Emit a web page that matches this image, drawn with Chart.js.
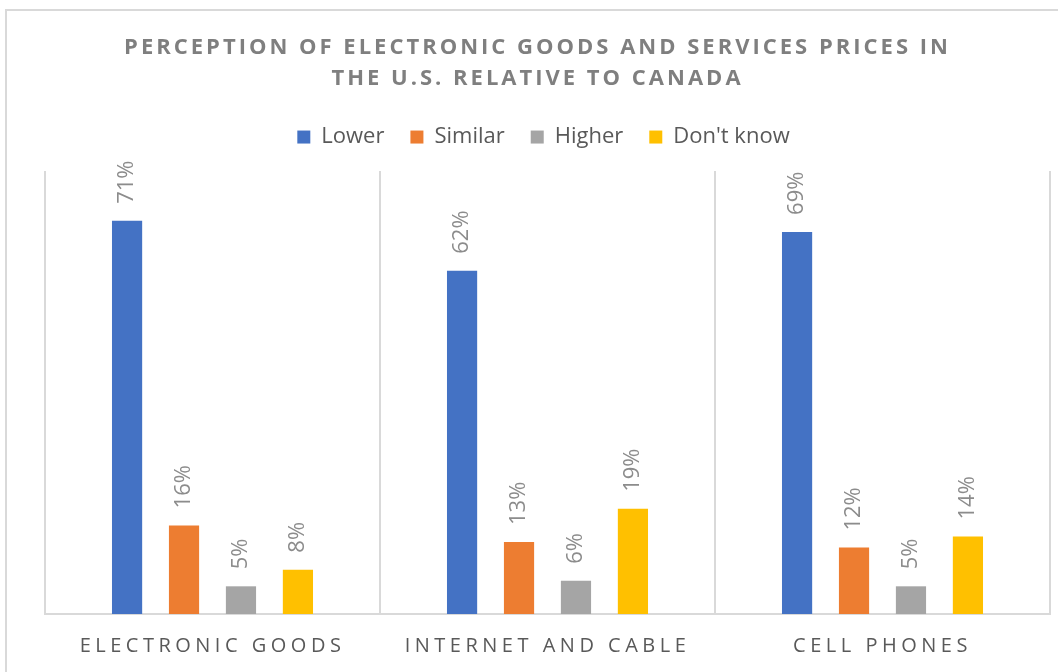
<!DOCTYPE html>
<html>
<head>
<meta charset="utf-8">
<script src="https://cdn.jsdelivr.net/npm/chart.js@4.4.1/dist/chart.umd.min.js"></script>
<style>
    html, body { margin: 0; padding: 0; background: #fff; }
    #wrap { width: 1058px; height: 672px; position: relative; }
</style>
</head>
<body>
<div id="wrap"><canvas id="my-chart"></canvas></div>
<script>
const categories = ['ELECTRONIC GOODS', 'INTERNET AND CABLE', 'CELL PHONES'];
const seriesNames = ['Lower', 'Similar', 'Higher', "Don't know"];
const lower = [71, 62, 69];
const similar = [16, 13, 12];
const higher = [5, 6, 5];
const dontKnow = [8, 19, 14];
const colors = ['#4472c4', '#ed7d31', '#a5a5a5', '#ffc000'];

// letter spacing (and a small horizontal nudge) for title, legend, axis labels
function spaceOut(obj, method, px, dx) {
    if (!obj || obj['_spaced_' + method]) return;
    const orig = obj[method];
    obj[method] = function (...args) {
        const c = this.ctx;
        c.save();
        c.letterSpacing = px;
        c.translate(dx, 0);
        orig.apply(this, args);
        c.restore();
    };
    obj['_spaced_' + method] = true;
}

const spacing = {
    id: 'spacing',
    beforeInit(chart) {
        // extra room under the legend
        const fit = chart.legend.fit;
        chart.legend.fit = function () {
            fit.call(this);
            this.height += 13;
        };
    },
    afterLayout(chart) {
        spaceOut(chart.titleBlock, 'draw', '3px', -10);
        spaceOut(chart.legend, 'draw', '0px', -4);
        spaceOut(chart.scales.x, 'drawLabels', '4.5px', 0);
    }
};

const frame = {
    id: 'frame',
    beforeDraw(chart) {
        const c = chart.ctx;
        c.save();
        c.strokeStyle = '#d9d9d9';
        c.lineWidth = 2;
        c.strokeRect(6, 10, 1100, 700);
        c.restore();
    }
};

const valueLabels = {
    id: 'valueLabels',
    afterDatasetsDraw(chart) {
        const c = chart.ctx;
        c.save();
        c.fillStyle = '#8c8c8c';
        c.font = '22px "Open Sans"';
        c.textAlign = 'left';
        c.textBaseline = 'middle';
        chart.data.datasets.forEach((ds, i) => {
            chart.getDatasetMeta(i).data.forEach((bar, j) => {
                c.save();
                c.translate(bar.x, bar.y - 17);
                c.rotate(-Math.PI / 2);
                c.fillText(ds.data[j] + '%', 0, 0);
                c.restore();
            });
        });
        c.restore();
    }
};

const series = [lower, similar, higher, dontKnow];

let myChart = document.getElementById('my-chart').getContext('2d');
const chart = new Chart(myChart, {
    type: 'bar',
    data: {
        labels: categories,
        datasets: series.map((d, i) => ({
            label: seriesNames[i],
            data: d,
            backgroundColor: colors[i],
            categoryPercentage: 0.68,
            barPercentage: 0.53
        }))
    },
    options: {
        responsive: true,
        maintainAspectRatio: false,
        animation: false,
        layout: { padding: { left: 45, right: 8, top: 32, bottom: -6 } },
        plugins: {
            title: {
                display: true,
                text: ['PERCEPTION OF ELECTRONIC GOODS AND SERVICES PRICES IN', 'THE U.S. RELATIVE TO CANADA'],
                color: '#7f7f7f',
                font: { family: '"Open Sans"', size: 22, weight: 'bold', lineHeight: 1.41 },
                padding: { top: 0, bottom: 6 }
            },
            legend: {
                labels: {
                    color: '#595959',
                    font: { family: '"Open Sans"', size: 22 },
                    boxWidth: 13,
                    boxHeight: 13,
                    padding: 26
                }
            },
            tooltip: { enabled: false }
        },
        scales: {
            x: {
                grid: { offset: true, color: '#d9d9d9', lineWidth: 2, drawTicks: false },
                border: { color: '#d9d9d9', width: 2 },
                ticks: {
                    color: '#595959',
                    font: { family: '"Open Sans"', size: 20 },
                    padding: 20,
                    maxRotation: 0
                }
            },
            y: {
                display: false,
                min: 0,
                max: 80
            }
        }
    },
    plugins: [spacing, frame, valueLabels]
});
chart.draw();
</script>
</body>
</html>
